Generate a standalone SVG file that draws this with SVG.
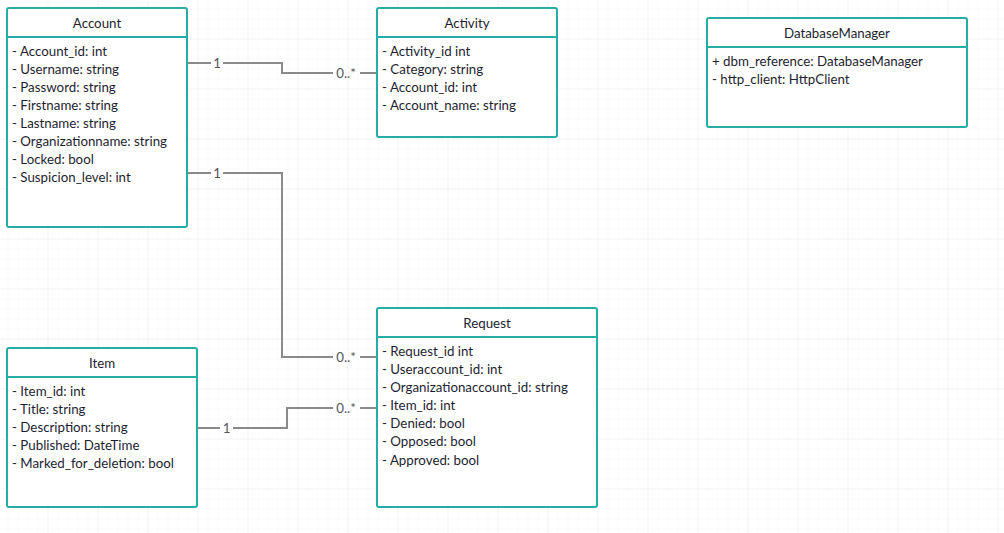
<svg xmlns="http://www.w3.org/2000/svg" width="1004" height="533" viewBox="0 0 1004 533">
<defs>
<pattern id="minor" x="7" y="8" width="10" height="10" patternUnits="userSpaceOnUse">
<path d="M0 0V10M0 0H10" fill="none" stroke="#f5f5f5" stroke-width="1"/>
</pattern>
<pattern id="major" x="47" y="38" width="50" height="50" patternUnits="userSpaceOnUse">
<path d="M0 0V50M0 0H50" fill="none" stroke="#ebebeb" stroke-width="1"/>
</pattern>
</defs>
<style>
.box{fill:#fff;stroke:#26ada6;stroke-width:2}
.div{stroke:#26ada6;stroke-width:2}
.hd{font-family:Lato,"Liberation Sans",sans-serif;font-size:13.3px;fill:#1e1e30;text-anchor:middle}
.at{font-family:Lato,"Liberation Sans",sans-serif;font-size:13.3px;fill:#1e1e30}
.cn{fill:none;stroke:#8a8a8a;stroke-width:2}
.lb{font-family:Lato,"Liberation Sans",sans-serif;font-size:13.3px;fill:#555;text-anchor:middle}
</style>
<rect width="1004" height="533" fill="#fff"/>
<rect width="1004" height="533" fill="url(#minor)" transform="translate(0.5 0.5)"/>
<rect width="1004" height="533" fill="url(#major)" transform="translate(0.5 0.5)"/>

<g id="connectors">
<path class="cn" d="M187 63H211M223 63H282V73H333M360 73H377"/>
<text class="lb" x="217" y="67.5">1</text>
<text class="lb" x="346" y="78">0..*</text>
<path class="cn" d="M187 173H211M223 173H282V357H333M360 357H377"/>
<text class="lb" x="217" y="177.5">1</text>
<text class="lb" x="346" y="362">0..*</text>
<path class="cn" d="M197 428H220M233 428H287V408H333M360 408H377"/>
<text class="lb" x="226.5" y="432.5">1</text>
<text class="lb" x="346" y="413">0..*</text>
</g>

<g id="Account">
<rect class="box" x="7" y="8" width="180" height="219" rx="2"/>
<line class="div" x1="7" y1="37" x2="187" y2="37"/>
<text class="hd" x="97" y="27.5">Account</text>
<text class="at" x="12" y="55.5">- Account_id: int</text>
<text class="at" x="12" y="73.5">- Username: string</text>
<text class="at" x="12" y="91.5">- Password: string</text>
<text class="at" x="12" y="109.5">- Firstname: string</text>
<text class="at" x="12" y="127.5">- Lastname: string</text>
<text class="at" x="12" y="145.5">- Organizationname: string</text>
<text class="at" x="12" y="163.5">- Locked: bool</text>
<text class="at" x="12" y="182">- Suspicion_level: int</text>
</g>

<g id="Activity">
<rect class="box" x="377" y="8" width="180" height="129" rx="2"/>
<line class="div" x1="377" y1="37" x2="557" y2="37"/>
<text class="hd" x="467" y="27.5">Activity</text>
<text class="at" x="382" y="55.5">- Activity_id int</text>
<text class="at" x="382" y="73.5">- Category: string</text>
<text class="at" x="382" y="91.5">- Account_id: int</text>
<text class="at" x="382" y="110">- Account_name: string</text>
</g>

<g id="DatabaseManager">
<rect class="box" x="707" y="18" width="260" height="109" rx="2"/>
<line class="div" x1="707" y1="47" x2="967" y2="47"/>
<text class="hd" x="837" y="37.5">DatabaseManager</text>
<text class="at" x="712" y="65.5">+ dbm_reference: DatabaseManager</text>
<text class="at" x="712" y="84">- http_client: HttpClient</text>
</g>

<g id="Request">
<rect class="box" x="377" y="308" width="220" height="199" rx="2"/>
<line class="div" x1="377" y1="337" x2="597" y2="337"/>
<text class="hd" x="487" y="327.5">Request</text>
<text class="at" x="382" y="355.5">- Request_id int</text>
<text class="at" x="382" y="373.5">- Useraccount_id: int</text>
<text class="at" x="382" y="391.5">- Organizationaccount_id: string</text>
<text class="at" x="382" y="409.5">- Item_id: int</text>
<text class="at" x="382" y="427.5">- Denied: bool</text>
<text class="at" x="382" y="445.5">- Opposed: bool</text>
<text class="at" x="382" y="464.5">- Approved: bool</text>
</g>

<g id="Item">
<rect class="box" x="7" y="348" width="190" height="159" rx="2"/>
<line class="div" x1="7" y1="377" x2="197" y2="377"/>
<text class="hd" x="102" y="367.5">Item</text>
<text class="at" x="12" y="395.5">- Item_id: int</text>
<text class="at" x="12" y="413.5">- Title: string</text>
<text class="at" x="12" y="431.5">- Description: string</text>
<text class="at" x="12" y="449.5">- Published: DateTime</text>
<text class="at" x="12" y="468">- Marked_for_deletion: bool</text>
</g>
</svg>
